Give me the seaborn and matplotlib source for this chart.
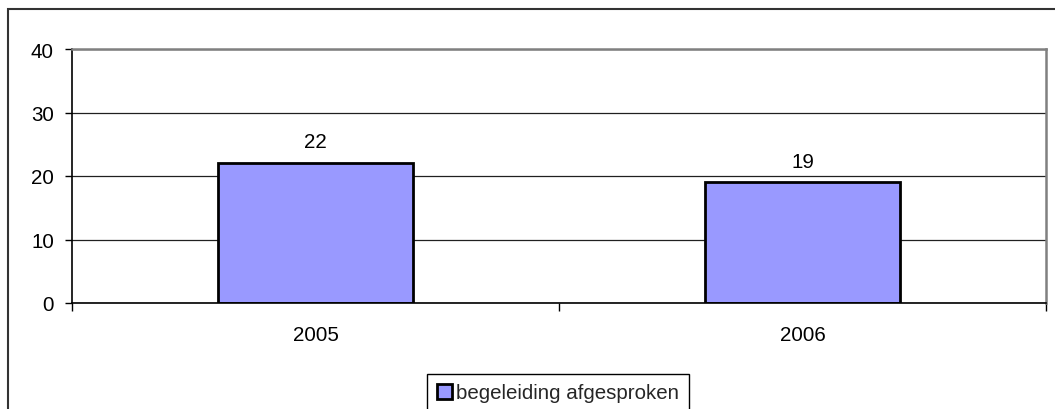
import seaborn as sns
import matplotlib.pyplot as plt
import pandas as pd
from matplotlib.patches import Rectangle

# Gegevens uit de grafiek
jaren = ['2005', '2006']
waarden = [22, 19]
reeks = 'begeleiding afgesproken'
yticks = [0, 10, 20, 30, 40]

sns.set_theme(style='white')
plt.rcParams['font.family'] = ['Liberation Sans', 'DejaVu Sans']
fs = 14.8

df = pd.DataFrame({'jaar': jaren, 'aantal': waarden})

fig = plt.figure(figsize=(10.55, 4.10), dpi=100)
ax = fig.add_axes([72 / 1055, 1 - 304 / 410, (1046 - 72) / 1055, (304 - 50) / 410])

sns.barplot(df, x='jaar', y='aantal', color='#9999FF', saturation=1,
            edgecolor='black', linewidth=2, width=0.4, ax=ax, label=reeks)

ax.set_ylim(0, 40)
ax.set_xlim(-0.5, 1.5)
ax.set_yticks(yticks)
ax.yaxis.grid(True, color='#202020', linewidth=0.9)
ax.set_axisbelow(True)
ax.set(xlabel='', ylabel='')

# ticks tussen de categorieën, zoals in Excel
ax.set_xticks([-0.5, 0.5, 1.5], minor=True)
ax.tick_params(axis='x', which='major', length=0, pad=16, labelsize=fs, colors='black')
ax.tick_params(axis='x', which='minor', length=6, width=1, color='black', direction='out', bottom=True)
ax.tick_params(axis='y', length=5, width=1, color='black', direction='out', left=True, pad=8,
               labelsize=fs, labelcolor='black')

for kant in ['top', 'right']:
    ax.spines[kant].set_color('#808080')
    ax.spines[kant].set_linewidth(1.8)
for kant in ['left', 'bottom']:
    ax.spines[kant].set_color('black')
    ax.spines[kant].set_linewidth(1.2)

for c in ax.containers:
    ax.bar_label(c, padding=8.5, fontsize=fs, color='black')

leg = ax.get_legend()
if leg:
    leg.remove()
fig.legend(loc='upper center', bbox_to_anchor=(558 / 1055, 1 - 375 / 410), fontsize=fs,
           frameon=True, fancybox=False, edgecolor='black', framealpha=1,
           handlelength=0.75, handleheight=0.75, handletextpad=0.2, borderpad=0.45,
           borderaxespad=0)
fig.legends[0].get_frame().set_linewidth(1)

# buitenrand van de grafiek (afgesneden rechts en onder)
fig.patches.append(Rectangle((8 / 1055, -0.1), 1.2, 1 - 10 / 410 + 0.1, fill=False,
                             edgecolor='#333333', linewidth=1.5, transform=fig.transFigure,
                             figure=fig))

fig.savefig('out.png', dpi=100)
